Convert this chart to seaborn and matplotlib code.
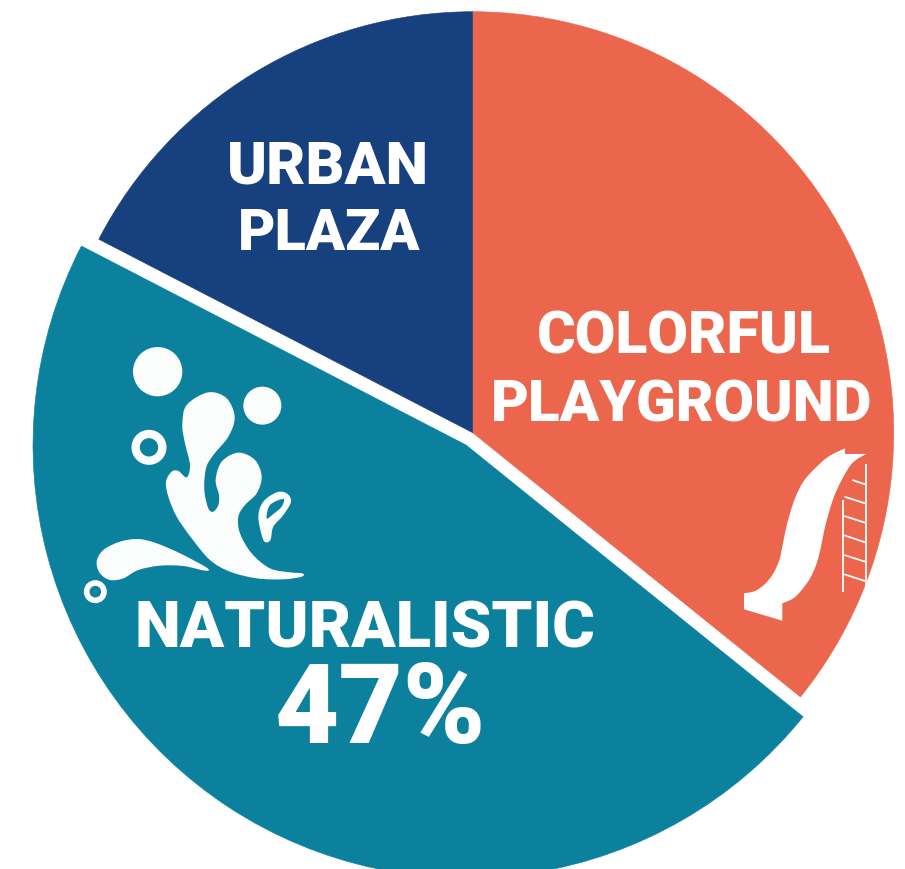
#%%
import seaborn as sns
from matplotlib import pyplot as plt
from matplotlib.patches import Circle, PathPatch
from matplotlib.path import Path

W, H = 905, 869

#%%
# chart values
slice_names = ['COLORFUL\nPLAYGROUND', 'NATURALISTIC', 'URBAN\nPLAZA']
slice_shares = [35.8, 46.8, 17.4]
slice_colors = ['#EC664D', '#0C819D', '#17407F']
big_label = '47%'
ICON = '#FBFDFD'


#%%
def py(y):
    return H - y


def zoom1(pts):
    return [(70 + x / 3, py(330 + y / 3)) for x, y in pts]


def zoom2(pts):
    return [(730 + x / 3, py(430 + y / 3)) for x, y in pts]


def smooth(pts, closed=False):
    """catmull-rom through pts, returned as cubic bezier segments"""
    n = len(pts)
    verts, codes = [], []
    last = n if closed else n - 1
    for i in range(last):
        if closed:
            p0, p1, p2, p3 = pts[i - 1], pts[i], pts[(i + 1) % n], pts[(i + 2) % n]
        else:
            p0, p1, p2, p3 = pts[max(i - 1, 0)], pts[i], pts[i + 1], pts[min(i + 2, n - 1)]
        c1 = (p1[0] + (p2[0] - p0[0]) / 6, p1[1] + (p2[1] - p0[1]) / 6)
        c2 = (p2[0] - (p3[0] - p1[0]) / 6, p2[1] - (p3[1] - p1[1]) / 6)
        verts += [c1, c2, p2]
        codes += [Path.CURVE4] * 3
    return verts, codes


def blob(pts):
    verts, codes = smooth(pts, closed=True)
    return [pts[0]] + verts, [Path.MOVETO] + codes


#%%
sns.set_theme(style='white')
plt.rcParams['font.family'] = ['Roboto', 'DejaVu Sans']

fig = plt.figure(figsize=(W / 100, H / 100), dpi=100)
ax = fig.add_axes([0, 0, 1, 1])

wedges, _ = ax.pie(slice_shares, colors=sns.color_palette(slice_colors),
        center=(472.7, py(432.7)), radius=421,
        startangle=90, counterclock=False)
# the naturalistic slice is bigger and pulled out of the pie
wedges[1].set_center((466, py(445)))
wedges[1].set_radius(433)
# hide the seam between the two slices that stay together
for w, col in zip(wedges, slice_colors):
    w.set_edgecolor(col)
    w.set_linewidth(0.4)

ax.set_xlim(0, W)
ax.set_ylim(0, H)
ax.axis('off')

#%%
# labels
lab = dict(color='white', fontweight='black', ha='center', va='baseline')
ax.text(327.5, py(183), 'URBAN', fontsize=43.5, **lab)
ax.text(329, py(250), 'PLAZA', fontsize=41.5, **lab)
ax.text(684, py(353), 'COLORFUL', fontsize=42.5, **lab)
ax.text(682, py(422), 'PLAYGROUND', fontsize=42, **lab)
ax.text(365, py(648), slice_names[1], fontsize=47, **lab)
ax.text(380, py(743), big_label, fontsize=80, **lab)

#%%
# splash icon
splash = [(415, 187), (470, 205), (494, 262), (475, 320), (430, 375), (408, 415),
        (403, 480), (415, 535), (430, 545), (445, 525), (447, 495), (437, 450),
        (455, 395), (505, 368), (555, 390), (575, 440), (560, 490), (525, 525),
        (505, 560), (510, 610), (545, 670), (600, 715), (660, 727), (697, 730),
        (695, 740), (640, 748), (560, 745), (480, 725), (420, 690), (365, 625),
        (320, 560), (295, 500), (288, 455), (305, 425), (325, 423), (350, 442),
        (360, 405), (345, 340), (337, 285), (350, 225)]
arm = [(80, 695), (100, 660), (150, 635), (205, 627), (260, 640), (330, 670),
        (410, 713), (405, 722), (340, 708), (270, 707), (205, 720), (160, 745),
        (120, 750), (90, 730)]
drop = [(565, 560), (580, 515), (620, 487), (650, 490), (663, 515), (640, 555),
        (610, 590), (602, 628), (590, 637), (578, 625)]
drop_hole = [(610, 552), (635, 530), (640, 507), (600, 525), (590, 565)]

for shape in [splash, arm]:
    v, c = blob(zoom1(shape))
    ax.add_patch(PathPatch(Path(v, c), fc=ICON, ec='none'))

v1, c1 = blob(zoom1(drop))
v2, c2 = blob(zoom1(drop_hole))
ax.add_patch(PathPatch(Path(v1 + v2, c1 + c2), fc=ICON, ec='none'))

for (x, y), r in [((263, 125), 74), ((577, 227), 57)]:
    ax.add_patch(Circle(zoom1([(x, y)])[0], r / 3, fc=ICON, ec='none'))
for (x, y), r, w in [((237, 352), 40, 25), ((76, 785), 26, 17)]:
    ax.add_patch(Circle(zoom1([(x, y)])[0], r / 3, fc='none', ec=ICON,
            lw=w / 3 * 0.72))

#%%
# slide icon
left_edge = zoom2([(42, 490), (75, 483), (105, 462), (130, 430), (148, 390),
        (158, 345), (167, 300), (180, 250), (197, 200), (220, 155), (250, 120),
        (295, 80), (345, 55)])
right_edge = zoom2([(410, 72), (385, 85), (362, 105), (335, 150), (312, 200),
        (296, 250), (283, 300), (273, 350), (260, 400), (240, 445), (215, 480),
        (190, 505), (157, 520)])
bottom = zoom2([(157, 572), (42, 538)])

v_l, c_l = smooth(left_edge)
v_r, c_r = smooth(right_edge)
verts = [left_edge[0]] + v_l + zoom2([(345, 72)]) + [right_edge[0]] + v_r + bottom + [left_edge[0]]
codes = [Path.MOVETO] + c_l + [Path.LINETO, Path.LINETO] + c_r + \
        [Path.LINETO, Path.LINETO, Path.CLOSEPOLY]
ax.add_patch(PathPatch(Path(verts, codes), fc='white', ec='none'))

ladder = [[(407, 103), (407, 470)], [(340, 210), (340, 485)],
        [(367, 150), (405, 163)], [(343, 200), (405, 220)], [(343, 258), (405, 278)],
        [(343, 316), (405, 337)], [(343, 375), (405, 395)], [(343, 433), (405, 453)]]
for seg in ladder:
    xs, ys = zip(*zoom2(seg))
    ax.plot(xs, ys, color='white', lw=1.3, solid_capstyle='butt')

ax.set_xlim(0, W)
ax.set_ylim(0, H)
fig.savefig('out.png', dpi=100, facecolor='white')
